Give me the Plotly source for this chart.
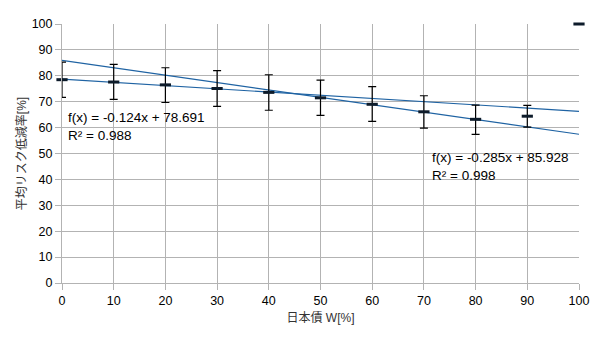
import plotly.graph_objects as go

weights = [0, 10, 20, 30, 40, 50, 60, 70, 80, 90, 100]
mean_reduction = [78.5, 77.6, 76.5, 75.1, 73.6, 71.5, 69.0, 66.1, 63.2, 64.4, 100.0]
err_upper = [6.8, 6.8, 6.6, 6.9, 6.8, 6.8, 6.8, 6.2, 5.5, 4.2, 0.0]
err_lower = [6.8, 6.7, 6.8, 6.9, 6.9, 6.8, 6.6, 6.3, 5.8, 4.2, 0.0]

trend_slopes = [-0.124, -0.285]
trend_intercepts = [78.691, 85.928]
trend_r2 = [0.988, 0.998]
trend_x = [0, 100]

x_ticks = list(range(0, 101, 10))
y_ticks = list(range(0, 101, 10))

FONT = "Liberation Sans, Arial, Noto Sans CJK JP, sans-serif"
LINE_COLOR = "#1f63a3"
GRID = "#b3b3b3"

fig = go.Figure()

for m, b in zip(trend_slopes, trend_intercepts):
    fig.add_trace(go.Scatter(
        x=trend_x, y=[m * xv + b for xv in trend_x],
        mode="lines", line=dict(color=LINE_COLOR, width=1.2),
        hoverinfo="skip", showlegend=False,
    ))

fig.add_trace(go.Scatter(
    x=weights, y=mean_reduction, mode="markers", cliponaxis=False,
    marker=dict(symbol="line-ew-open", size=8, color="#0d1b2a",
                line=dict(color="#0d1b2a", width=3)),
    error_y=dict(type="data", symmetric=False, array=err_upper,
                 arrayminus=err_lower, color="black", thickness=1.2, width=4),
    showlegend=False,
))

ann_pos = [(0.8, 60.5), (71.2, 44.8)]
for (ax, ay), m, b, r2 in zip(ann_pos, trend_slopes, trend_intercepts, trend_r2):
    fig.add_annotation(
        x=ax, y=ay, xref="x", yref="y", xanchor="left", yanchor="middle",
        text=f"f(x) = {m}x + {b}<br>R² = {r2}", showarrow=False, align="left",
        font=dict(family=FONT, size=13.5, color="black"),
    )

axis_common = dict(
    range=[0, 100], showgrid=True, gridcolor=GRID, gridwidth=1,
    showline=True, linecolor=GRID, linewidth=1, zeroline=False,
    ticks="outside", ticklen=6, tickcolor=GRID,
    tickfont=dict(family=FONT, size=12.5, color="black"),
)

fig.update_xaxes(**axis_common, tickvals=x_ticks,
                 title=dict(text="日本債 W[%]", standoff=6,
                            font=dict(family=FONT, size=12, color="#333333")))
fig.update_yaxes(**axis_common, tickvals=y_ticks,
                 title=dict(text="平均リスク低減率[%]", standoff=2,
                            font=dict(family=FONT, size=12, color="#333333")))

fig.update_layout(
    width=600, height=337,
    margin=dict(l=62, r=21, t=24, b=54),
    paper_bgcolor="white", plot_bgcolor="white",
    font=dict(family=FONT, size=12, color="black"),
)

fig.write_html("out.html")
